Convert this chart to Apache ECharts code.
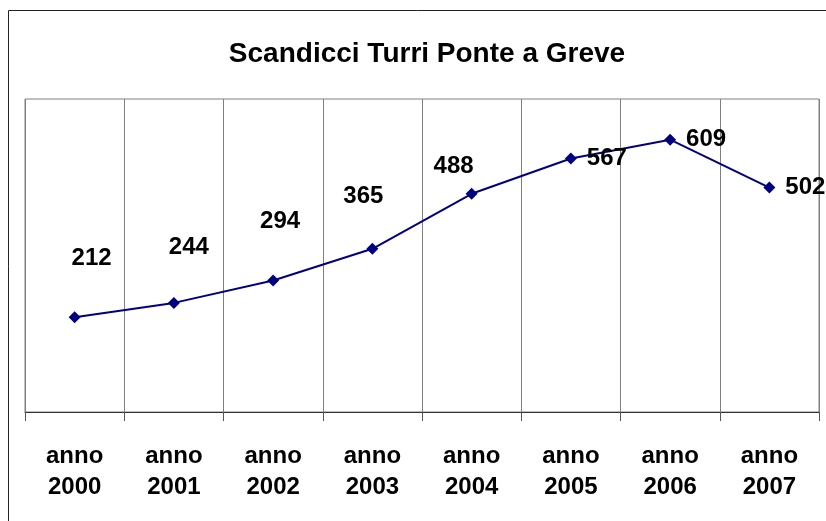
<!DOCTYPE html>
<html>
<head>
<meta charset="utf-8">
<script src="https://cdn.jsdelivr.net/npm/echarts@6/dist/echarts.min.js"></script>
<style>
html,body{margin:0;padding:0;background:#fff;}
#main{width:826px;height:521px;}
</style>
</head>
<body>
<div id="main"></div>
<script>
'use strict'
// dati
let anni = ['anno\n2000','anno\n2001','anno\n2002','anno\n2003','anno\n2004','anno\n2005','anno\n2006','anno\n2007'],
	valori = [212, 244, 294, 365, 488, 567, 609, 502];
// spostamento etichette (come nel grafico originale)
let labelOffsets = [[17,-59],[15,-56],[7,-59],[-9,-52],[-18,-27],[36,0],[36,0],[36,0]];

let chart = echarts.init(document.getElementById('main'));
let font = '"Liberation Sans", Arial, sans-serif';
let option = {
	animation:false,
	textStyle:{fontFamily:font},
	title:{
		text:'Scandicci Turri Ponte a Greve',
		left:422,
		textAlign:'center',
		top:35,
		textStyle:{fontSize:28, fontWeight:'bold', color:'#000', fontFamily:font}
	},
	graphic:[{
		type:'rect',
		shape:{x:8.5, y:10.5, width:900, height:600},
		style:{fill:'none', stroke:'#222', lineWidth:1},
		silent:true
	}],
	grid:{
		left:25, right:7, top:99, bottom:109,
		show:true, borderColor:'#808080', borderWidth:1
	},
	xAxis:{
		type:'category',
		data:anni,
		boundaryGap:true,
		axisLine:{lineStyle:{color:'#333', width:1}},
		axisTick:{show:true, length:9, lineStyle:{color:'#555'}},
		splitLine:{show:true, interval:0, lineStyle:{color:'#808080', width:1}},
		axisLabel:{
			interval:0,
			margin:29,
			fontSize:24,
			fontWeight:'bold',
			lineHeight:31,
			color:'#000',
			fontFamily:font
		}
	},
	yAxis:{
		type:'value',
		min:0, max:700,
		show:false,
		splitLine:{show:false}
	},
	series:[{
		type:'line',
		data:valori.map((v,i)=>({
			value:v,
			label:{offset:labelOffsets[i]}
		})),
		symbol:'diamond',
		symbolSize:12,
		itemStyle:{color:'#000080'},
		lineStyle:{color:'#000080', width:2},
		label:{
			show:true,
			position:'inside',
			fontSize:24,
			fontWeight:'bold',
			color:'#000',
			fontFamily:font
		}
	}]
};
chart.setOption(option);
</script>
</body>
</html>
